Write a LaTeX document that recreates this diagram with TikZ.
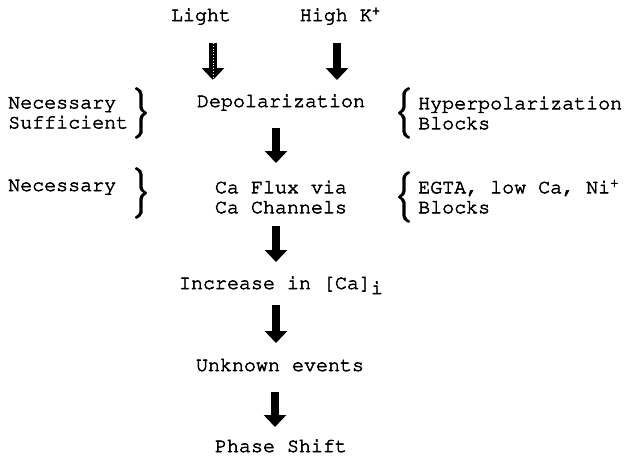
\documentclass[tikz,border=0pt]{standalone}
\usepackage[T1]{fontenc}
\usepackage{courier}
\usepackage{amsmath}
\usepackage{tikz}
\usetikzlibrary{positioning, arrows.meta, calc}

% slightly heavier glyphs, like the typed original
\newcommand{\inkon}[1]{\special{pdf:code 2 Tr #1 w}}
\newcommand{\inkoff}{\special{pdf:code 0 Tr}}
\newcommand{\supr}[1]{\raisebox{6pt}{\fontsize{14}{14}\selectfont #1}}

\tikzset{
  txt/.style={inner sep=0pt, font=\fontsize{20}{20}\selectfont\ttfamily,
    execute at begin node=\inkon{0.55}, execute at end node=\inkoff},
  onerow/.style={txt, text height=12pt, text depth=4pt},
  brc/.style={inner sep=0pt, font=\fontsize{19.5}{20}\selectfont,
    execute at begin node=\inkon{1.6}, execute at end node=\inkoff},
  bigarrow/.style={line width=8pt, -{Triangle[width=22pt, length=12pt]}},
  lightarrow/.style={bigarrow, postaction={draw, white, line width=0.8pt, dotted, -}}
}

\begin{document}
\begin{tikzpicture}[x=1pt, y=-1pt]
  \useasboundingbox (0,0) rectangle (627,458);
  % main column
  \node[onerow] (light) at (201,17) {Light};
  \node[onerow] (highk) at (340,17) {High K\supr{+}};
  \node[onerow] (depol) at (281,103) {Depolarization};
  \node[txt, align=center] (caflux) at (281,197) {Ca Flux via\\Ca Channels};
  \node[onerow] (incr) at (281,285) {Increase in [Ca]\raisebox{-5pt}{i}};
  \node[onerow] (unkn) at (280,367) {Unknown events};
  \node[onerow] (phase) at (281,448) {Phase Shift};
  % side notes
  \node[txt, align=left, anchor=west] (suff) at (8,113) {Necessary\\Sufficient};
  \node[onerow, anchor=west] (nec) at (8,187) {Necessary};
  \node[txt, align=left, anchor=west] (hyper) at (418,113) {Hyperpolarization\\Blocks};
  \node[txt, align=left, anchor=west] (egta) at (418,197) {EGTA, low Ca, Ni\supr{+}\\Blocks};
  \node[brc] (rb1) at (141,113) {$\bigg\}$};
  \node[brc] (rb2) at (141,193) {$\bigg\}$};
  \node[brc] (lb1) at (404,113) {$\bigg\{$};
  \node[brc] (lb2) at (404,197) {$\bigg\{$};
  % arrows
  \draw[lightarrow, shorten <=26pt, shorten >=23pt] ([xshift=12pt]light.center) -- ([xshift=12pt]light.center |- depol.center);
  \draw[bigarrow, shorten <=26pt, shorten >=23pt] ([xshift=-3pt]highk.center) -- ([xshift=-3pt]highk.center |- depol.center);
  \foreach \a/\b/\s/\e in {depol/caflux/25pt/34pt, caflux/incr/29pt/23pt, incr/unkn/20pt/24pt, unkn/phase/25pt/21pt}
    \draw[bigarrow, shorten <=\s, shorten >=\e] ([xshift=-5pt]\a.center) -- ([xshift=-5pt]\a.center |- \b.center);
\end{tikzpicture}
\end{document}
